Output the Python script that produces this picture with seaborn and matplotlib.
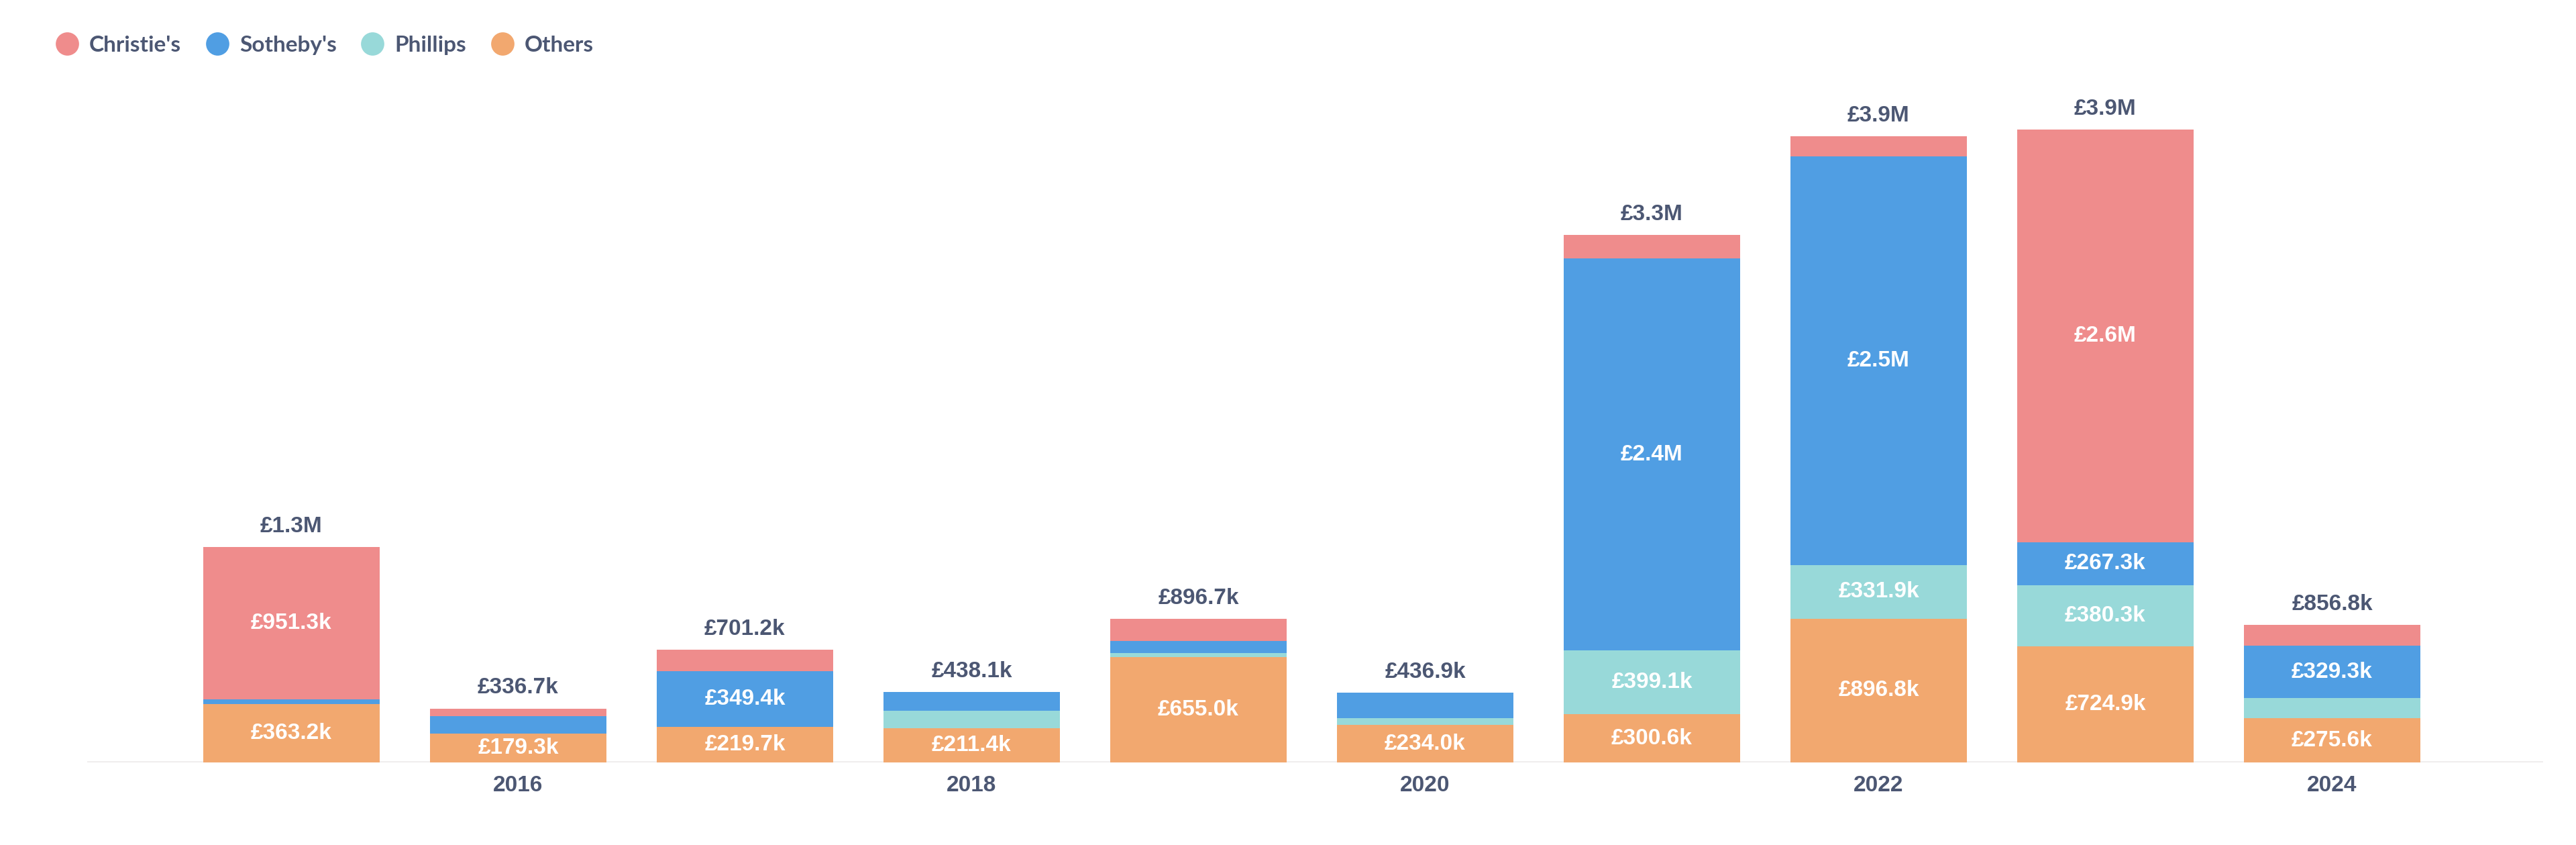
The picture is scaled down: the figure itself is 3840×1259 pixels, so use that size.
import numpy as np
import pandas as pd
import matplotlib
matplotlib.use("Agg")
import matplotlib.pyplot as plt
from matplotlib.lines import Line2D
import seaborn as sns

# values in £k
years = [2015, 2016, 2017, 2018, 2019, 2020, 2021, 2022, 2023, 2024]
christies = [951.3, 49.0, 132.1, 0.0, 141.3, 0.0, 146.4, 125.5, 2572.0, 127.9]
sothebys = [28.0, 108.4, 349.4, 115.7, 72.4, 161.1, 2440.0, 2549.0, 267.3, 329.3]
phillips = [0.0, 0.0, 0.0, 111.0, 28.0, 41.8, 399.1, 331.9, 380.3, 124.0]
others = [363.2, 179.3, 219.7, 211.4, 655.0, 234.0, 300.6, 896.8, 724.9, 275.6]
houses = ["Christie's", "Sotheby's", "Phillips", "Others"]
tick_years = [2016, 2018, 2020, 2022, 2024]

colors = {"Christie's": "#EF8C8C", "Sotheby's": "#509EE3",
          "Phillips": "#98D9D9", "Others": "#F2A86F"}
text_color = "#4C5773"

series = {"Christie's": christies, "Sotheby's": sothebys,
          "Phillips": phillips, "Others": others}
rows = []
for house in houses:
    for y, v in zip(years, series[house]):
        rows.append({"year": y, "house": house, "value": v})
df = pd.DataFrame(rows)
totals = df.groupby("year")["value"].sum()


def fmt(v):
    if v >= 1000:
        return f"£{v / 1000:.1f}M"
    return f"£{v:.1f}k"


sns.set_theme(style="white")
plt.rcParams['font.family'] = ['Lato', 'DejaVu Sans']
label_font = ['Liberation Sans', 'DejaVu Sans']

fig = plt.figure(figsize=(19.2, 6.295), dpi=200)
ax = fig.add_axes([0.0339, 0.0977, 0.9533, 0.7832])

sns.histplot(data=df, x="year", weights="value", hue="house", hue_order=houses,
             multiple="stack", discrete=True, shrink=0.78, palette=colors,
             alpha=1, linewidth=0, legend=False, ax=ax)

# labels inside the bigger segments
for p in ax.patches:
    h = p.get_height()
    if h >= 170:
        ax.text(p.get_x() + p.get_width() / 2, p.get_y() + h / 2, fmt(h),
                ha="center", va="center", color="white", fontsize=12,
                fontweight="bold", family=label_font)

# totals on top
for y, t in totals.items():
    ax.annotate(fmt(t), (y, t), xytext=(0, 11), textcoords="offset points",
                ha="center", va="center", color=text_color, fontsize=12,
                fontweight="bold", family=label_font)

ax.axhline(0, color="#EEECEC", lw=1.3, zorder=0)
ax.set_xlim(2014.1, 2024.93)
ax.set_ylim(0, 4125)
ax.set_xticks(tick_years)
ax.set_xticklabels([str(t) for t in tick_years], color=text_color,
                   fontsize=12, fontweight="bold", family=label_font)
ax.tick_params(axis="x", length=0, pad=7)
ax.set_yticks([])
ax.set_xlabel("")
ax.set_ylabel("")
sns.despine(ax=ax, left=True, bottom=True)

handles = [Line2D([0], [0], marker="o", linestyle="", markersize=11.5,
                  markerfacecolor=colors[h], markeredgecolor=colors[h]) for h in houses]
leg = fig.legend(handles, houses, loc="upper left", bbox_to_anchor=(0.0095, 0.982),
                 ncol=4, frameon=False, handletextpad=0.0, columnspacing=0.6,
                 prop={"size": 12, "weight": "bold"})
for txt in leg.get_texts():
    txt.set_color(text_color)

fig.savefig("out.png", dpi=200)
